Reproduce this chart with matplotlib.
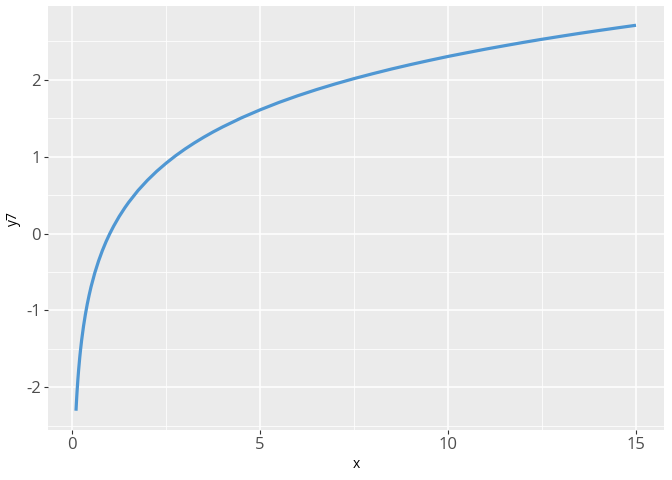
import matplotlib
matplotlib.use('Agg')
import matplotlib.pyplot as plt
from matplotlib.ticker import MultipleLocator

# values
x = [0.1, 0.11, 0.12, 0.13, 0.15, 0.17, 0.2, 0.22, 0.25, 0.3, 0.35, 0.4, 0.45,
     0.5, 0.6, 0.7, 0.8, 0.9, 1.0, 1.1, 1.25, 1.4, 1.5, 1.75, 2.0, 2.25, 2.5,
     2.75, 3, 3.25, 3.5, 3.75, 4, 4.5, 5, 5.5, 6, 6.5, 7, 7.5, 8, 8.5, 9, 9.5,
     10, 10.5, 11, 11.5, 12, 12.5, 13, 13.5, 14, 14.5, 15]
y7 = [-2.303, -2.207, -2.120, -2.040, -1.897, -1.772, -1.609, -1.514, -1.386,
      -1.204, -1.050, -0.916, -0.799, -0.693, -0.511, -0.357, -0.223, -0.105,
      0.000, 0.095, 0.223, 0.336, 0.405, 0.560, 0.693, 0.811, 0.916, 1.012,
      1.099, 1.179, 1.253, 1.322, 1.386, 1.504, 1.609, 1.705, 1.792, 1.872,
      1.946, 2.015, 2.079, 2.140, 2.197, 2.251, 2.303, 2.351, 2.398, 2.442,
      2.485, 2.526, 2.565, 2.603, 2.639, 2.674, 2.708]

plt.rcParams['font.family'] = ['Open Sans', 'DejaVu Sans']
plt.rcParams['axes.unicode_minus'] = False

fig = plt.figure(figsize=(6.72, 4.8), dpi=100)
ax = fig.add_axes([48 / 672, 50 / 480, 616 / 672, 424 / 480])
ax.set_facecolor('#ebebeb')

ax.plot(x, y7, color='#4f97d3', linewidth=2.3, solid_capstyle='butt',
        solid_joinstyle='round', zorder=3)

# ggplot style expansion of 5%
xr = max(x) - min(x)
yr = max(y7) - min(y7)
ax.set_xlim(min(x) - 0.05 * xr, max(x) + 0.05 * xr)
ax.set_ylim(min(y7) - 0.05 * yr, max(y7) + 0.05 * yr)

ax.xaxis.set_major_locator(MultipleLocator(5))
ax.xaxis.set_minor_locator(MultipleLocator(2.5))
ax.yaxis.set_major_locator(MultipleLocator(1))
ax.yaxis.set_minor_locator(MultipleLocator(0.5))

ax.grid(which='major', color='white', linewidth=1.1, zorder=0)
ax.grid(which='minor', color='white', linewidth=0.55, zorder=0)
ax.set_axisbelow(True)

for s in ax.spines.values():
    s.set_visible(False)

ax.tick_params(which='major', length=3, width=0.8, color='#333333',
               labelcolor='#4d4d4d', labelsize=12, pad=2)
ax.tick_params(which='minor', length=0)

ax.set_xlabel('x', fontsize=10, color='black', labelpad=3)
ax.set_ylabel('y7', fontsize=10, color='black', labelpad=4)

fig.savefig('out.png', dpi=100)
